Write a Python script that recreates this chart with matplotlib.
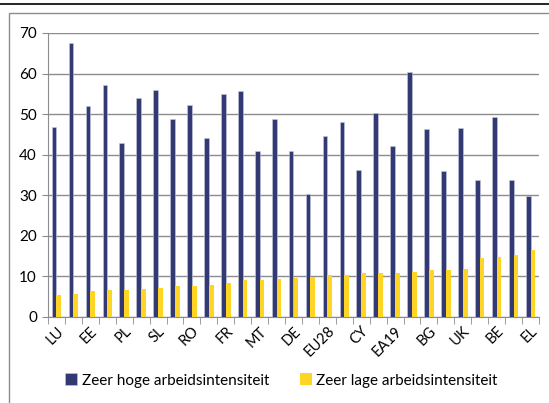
import numpy as np
import matplotlib.pyplot as plt
from matplotlib.patches import Rectangle
from matplotlib.lines import Line2D

# Tick labels (every other category is labelled in the source chart)
tick_labels = ['LU', '', 'EE', '', 'PL', '', 'SL', '', 'RO', '', 'FR', '', 'MT', '',
               'DE', '', 'EU28', '', 'CY', '', 'EA19', '', 'BG', '', 'UK', '', 'BE', '', 'EL']

hoog = [46.8, 67.5, 52.1, 57.3, 42.9, 53.9, 55.9, 48.7, 52.2, 44.1, 55.0, 55.7, 40.8, 48.9,
        41.0, 30.2, 44.5, 48.0, 36.2, 50.3, 42.2, 60.3, 46.4, 36.0, 46.7, 33.8, 49.3, 33.7, 29.8]
laag = [5.5, 5.7, 6.5, 6.7, 6.7, 7.0, 7.2, 7.7, 7.7, 8.0, 8.4, 9.1, 9.1, 9.4,
        9.6, 9.9, 10.4, 10.4, 10.8, 10.8, 10.8, 11.0, 11.5, 11.6, 11.8, 14.5, 14.8, 15.3, 16.5]

plt.rcParams['font.family'] = ['Lato', 'DejaVu Sans']

W, H = 549, 403
fig = plt.figure(figsize=(W / 100, H / 100), dpi=100)

# outer frame and top rule
fig.patches.append(Rectangle((9 / W, -0.1), 1.2, 1 - 13 / H + 0.1, transform=fig.transFigure,
                             fill=False, edgecolor='#8c8c8c', linewidth=1.0))
fig.lines.append(Line2D([0, 1], [1 - 4 / H, 1 - 4 / H], transform=fig.transFigure,
                        color='black', linewidth=1.2))

ax = fig.add_axes([48 / W, 1 - 317 / H, (539 - 48) / W, (317 - 33) / H])

x = np.arange(len(hoog))
w = 0.28
ax.bar(x - w / 2, hoog, w, color='#333a73', edgecolor='#c8cae0', linewidth=0.4,
       label='Zeer hoge arbeidsintensiteit', zorder=3)
ax.bar(x + w / 2, laag, w, color='#ffd525', label='Zeer lage arbeidsintensiteit', zorder=3)

ax.set_xlim(-0.5, len(hoog) - 0.5)
ax.set_ylim(0, 70)
ax.set_yticks(range(0, 71, 10))
ax.yaxis.grid(True, color='#8c8c8c', linewidth=1.0, zorder=0)
ax.tick_params(axis='y', labelsize=11, length=4, color='#8c8c8c', pad=4)

ax.set_xticks(x)
ax.set_xticklabels(tick_labels, rotation=45, ha='right', rotation_mode='anchor', fontsize=10.5)
ax.tick_params(axis='x', length=0, pad=5)
ax.set_xticks(np.arange(-0.5, len(hoog), 1), minor=True)
ax.tick_params(axis='x', which='minor', length=5, color='#8c8c8c')

for s in ['top', 'right']:
    ax.spines[s].set_visible(False)
for s in ['left', 'bottom']:
    ax.spines[s].set_color('#8c8c8c')

ax.legend(loc='upper center', bbox_to_anchor=(0.475, -0.15), ncol=2, frameon=False,
          fontsize=11, handlelength=0.8, handleheight=0.8, handletextpad=0.3, columnspacing=2.0)

fig.savefig('out.png', dpi=100)
